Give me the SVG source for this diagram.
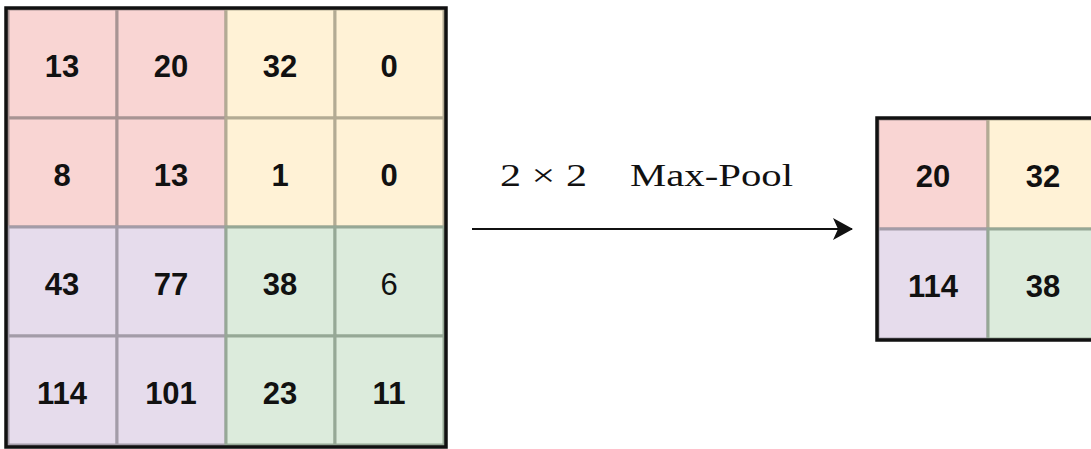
<svg xmlns="http://www.w3.org/2000/svg" width="1091" height="449" viewBox="0 0 1091 449">
<style>
.num{font-family:"Liberation Sans",Arial,sans-serif;font-weight:bold;font-size:31px;fill:#111;text-anchor:middle;dominant-baseline:central}
.reg{font-weight:normal}
.r{fill:#f9d5d3;stroke:#a89493;stroke-width:3}
.y{fill:#fff2d6;stroke:#b3ab94;stroke-width:3}
.p{fill:#e6dcec;stroke:#a39ca8;stroke-width:3}
.g{fill:#dcebdc;stroke:#96a896;stroke-width:3}
.frame{fill:none;stroke:#111;stroke-width:3.5}
.lbl{font-family:"Liberation Serif","Times New Roman",serif;font-size:31px;fill:#111}
</style>
<defs>
<marker id="ah" markerWidth="20" markerHeight="22" refX="19" refY="11" orient="auto" markerUnits="userSpaceOnUse" viewBox="0 0 20 22">
<path d="M0,0 L20,11 L0,22 L5,11 Z" fill="#111"/>
</marker>
</defs>
<rect width="1091" height="449" fill="#fff"/>
<g id="input-grid">
<rect class="r" x="8" y="9" width="109" height="109"/>
<rect class="r" x="117" y="9" width="109" height="109"/>
<rect class="y" x="226" y="9" width="109" height="109"/>
<rect class="y" x="335" y="9" width="109" height="109"/>
<rect class="r" x="8" y="118" width="109" height="109"/>
<rect class="r" x="117" y="118" width="109" height="109"/>
<rect class="y" x="226" y="118" width="109" height="109"/>
<rect class="y" x="335" y="118" width="109" height="109"/>
<rect class="p" x="8" y="227" width="109" height="109"/>
<rect class="p" x="117" y="227" width="109" height="109"/>
<rect class="g" x="226" y="227" width="109" height="109"/>
<rect class="g" x="335" y="227" width="109" height="109"/>
<rect class="p" x="8" y="336" width="109" height="109"/>
<rect class="p" x="117" y="336" width="109" height="109"/>
<rect class="g" x="226" y="336" width="109" height="109"/>
<rect class="g" x="335" y="336" width="109" height="109"/>
<rect class="frame" x="6" y="8" width="440" height="439"/>
<text class="num" x="62" y="66">13</text>
<text class="num" x="171" y="66">20</text>
<text class="num" x="280" y="66">32</text>
<text class="num" x="389" y="66">0</text>
<text class="num" x="62" y="175">8</text>
<text class="num" x="171" y="175">13</text>
<text class="num" x="280" y="175">1</text>
<text class="num" x="389" y="175">0</text>
<text class="num" x="62" y="284">43</text>
<text class="num" x="171" y="284">77</text>
<text class="num" x="280" y="284">38</text>
<text class="num reg" x="389" y="284">6</text>
<text class="num" x="62" y="393">114</text>
<text class="num" x="171" y="393">101</text>
<text class="num" x="280" y="393">23</text>
<text class="num" x="389" y="393">11</text>
</g>
<g id="connectors">
<line x1="472" y1="229" x2="852" y2="229" stroke="#111" stroke-width="2.2" marker-end="url(#ah)"/>
</g>
<g id="label">
<text class="lbl" x="500" y="186" textLength="87" lengthAdjust="spacingAndGlyphs">2 × 2</text>
<text class="lbl" x="630" y="186" textLength="163" lengthAdjust="spacingAndGlyphs">Max-Pool</text>
</g>
<g id="output-grid">
<rect class="r" x="878" y="119" width="110" height="110"/>
<rect class="y" x="988" y="119" width="110" height="110"/>
<rect class="p" x="878" y="229" width="110" height="110"/>
<rect class="g" x="988" y="229" width="110" height="110"/>
<rect class="frame" x="877" y="118" width="225" height="222"/>
<text class="num" x="933" y="176">20</text>
<text class="num" x="1043" y="176">32</text>
<text class="num" x="933" y="286">114</text>
<text class="num" x="1043" y="286">38</text>
</g>
</svg>
